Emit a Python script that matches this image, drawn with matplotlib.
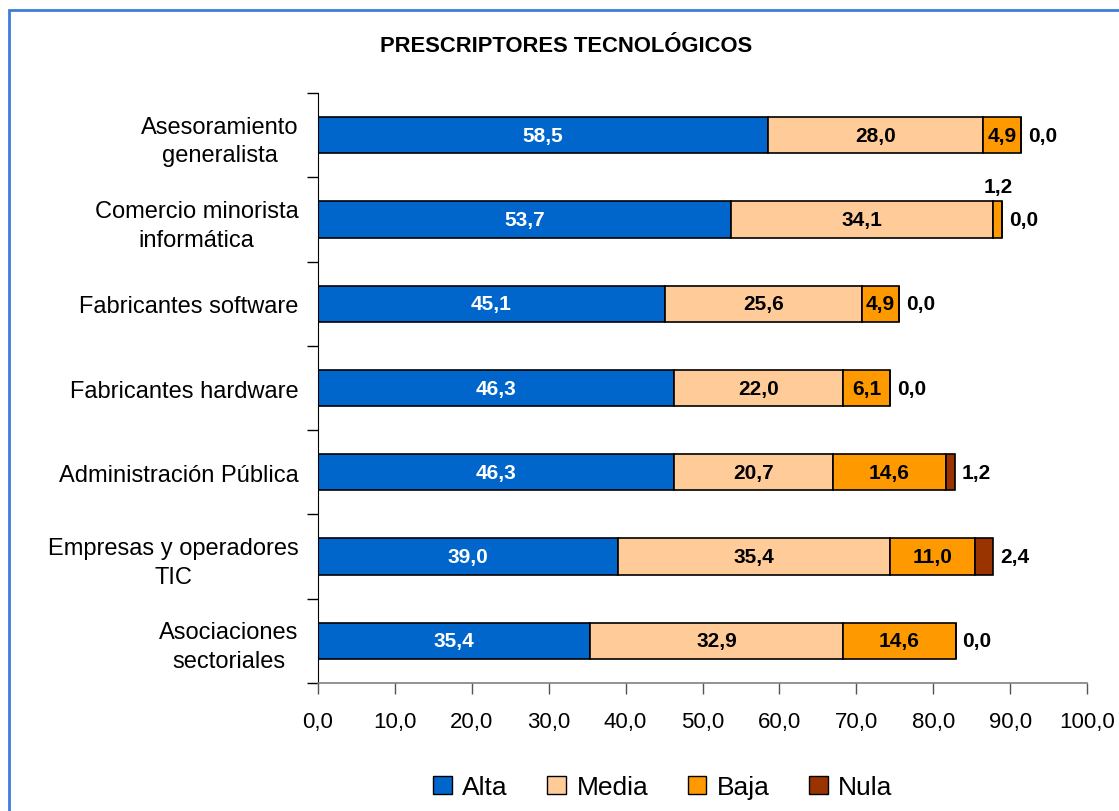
import matplotlib
matplotlib.use("Agg")
import matplotlib.pyplot as plt
from matplotlib.patches import Patch, Rectangle
import numpy as np

plt.rcParams['font.family'] = ['Liberation Sans', 'DejaVu Sans']

categories = ["Asesoramiento\ngeneralista", "Comercio minorista\ninformática",
              "Fabricantes software", "Fabricantes hardware",
              "Administración Pública", "Empresas y operadores\nTIC",
              "Asociaciones\nsectoriales"]
alta = [58.5, 53.7, 45.1, 46.3, 46.3, 39.0, 35.4]
media = [28.0, 34.1, 25.6, 22.0, 20.7, 35.4, 32.9]
baja = [4.9, 1.2, 4.9, 6.1, 14.6, 11.0, 14.6]
nula = [0.0, 0.0, 0.0, 0.0, 1.2, 2.4, 0.0]
series_names = ["Alta", "Media", "Baja", "Nula"]
colors = ["#0066CC", "#FFCC99", "#FF9900", "#993300"]
xticks = [0, 10, 20, 30, 40, 50, 60, 70, 80, 90, 100]
title = "PRESCRIPTORES TECNOLÓGICOS"

def fmt(v):
    return f"{v:.1f}".replace('.', ',')

W, H = 1119, 812
fig = plt.figure(figsize=(W / 100, H / 100), dpi=100)
fig.patch.set_facecolor("white")

# blue frame
fig.patches.append(Rectangle((9 / W, -0.05), 1.2, 1 - 11 / H + 0.05, transform=fig.transFigure,
                             fill=False, edgecolor="#3B7DD8", linewidth=2.0, clip_on=False))

ax = fig.add_axes([318 / W, 1 - 684 / H, (1087 - 318) / W, (684 - 94) / H])
y = np.arange(len(categories))
bh = 0.43

data = [alta, media, baja, nula]
left = np.zeros(len(categories))
for vals, col, name in zip(data, colors, series_names):
    ax.barh(y, vals, left=left, height=bh, color=col, edgecolor="black", linewidth=1.2, label=name)
    left = left + np.array(vals)

lab_kw = dict(fontsize=15, fontweight="bold", va="center", ha="center")
for i in range(len(categories)):
    ax.text(alta[i] / 2, y[i], fmt(alta[i]), color="white", **lab_kw)
    ax.text(alta[i] + media[i] / 2, y[i], fmt(media[i]), color="black", **lab_kw)
    bc = alta[i] + media[i] + baja[i] / 2
    if baja[i] < 3:
        ax.annotate(fmt(baja[i]), (bc, y[i]), xytext=(0, 24), textcoords="offset points",
                    color="black", **lab_kw)
    else:
        ax.text(bc, y[i], fmt(baja[i]), color="black", **lab_kw)
    total = alta[i] + media[i] + baja[i] + nula[i]
    ax.annotate(fmt(nula[i]), (total, y[i]), xytext=(5, 0), textcoords="offset points",
                color="black", fontsize=15, fontweight="bold", va="center", ha="left")

ax.set_xlim(0, 100)
ax.set_ylim(len(categories) - 0.5, -0.5)
ax.set_xticks(xticks)
ax.set_xticklabels([fmt(v) for v in xticks], fontsize=16)
ax.set_yticks(y)
ax.set_yticklabels(categories, fontsize=17, linespacing=1.4, multialignment="center")
ax.set_yticks(np.arange(-0.5, len(categories), 1.0), minor=True)
ax.tick_params(axis="y", which="major", length=0, pad=14)
ax.tick_params(axis="y", which="minor", length=8, width=1, color="black", direction="out")
ax.tick_params(axis="x", which="major", length=8, width=1, color="#555555", pad=12, direction="out")

for s in ["top", "right"]:
    ax.spines[s].set_visible(False)
ax.spines["left"].set_color("black")
ax.spines["bottom"].set_color("#808080")
ax.spines["bottom"].set_linewidth(1.2)

fig.text(566 / W, 1 - 46 / H, title, fontsize=15.8, fontweight="bold", ha="center", va="center")

handles = [Patch(facecolor=c, edgecolor="black", linewidth=1.0) for c in colors]
fig.legend(handles, series_names, loc="center", bbox_to_anchor=(663 / W, 1 - 788 / H), ncol=4,
           frameon=False, fontsize=19, handlelength=0.7, handleheight=0.7, handletextpad=0.4,
           columnspacing=1.5)

fig.savefig("out.png", dpi=100, facecolor="white")
